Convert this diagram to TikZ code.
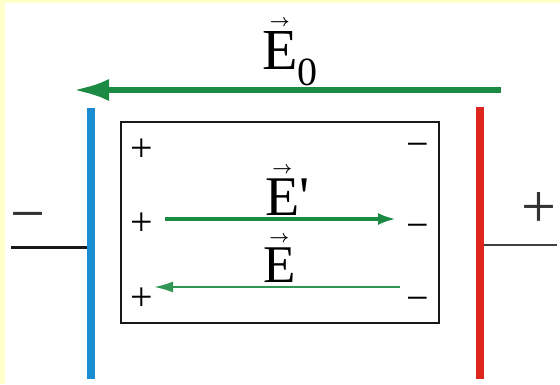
\documentclass[tikz,border=0pt]{standalone}
\usepackage{amsmath}
\usepackage{fontspec}
\setmainfont{Liberation Serif}
\usetikzlibrary{arrows.meta}

\definecolor{fieldgreen}{RGB}{27,138,66}
\definecolor{platblue}{RGB}{26,140,210}
\definecolor{platred}{RGB}{222,38,30}
\definecolor{paper}{RGB}{255,255,204}

\newcommand{\fieldvec}[1]{$\overset{\text{\fontsize{16}{16}\selectfont$\boldsymbol{\rightarrow}$}}{\text{#1}}$}

\tikzset{
    sign/.style={inner sep=0pt, text height=29pt, text depth=0pt, font=\fontsize{40}{40}\selectfont},
    termsign/.style={inner sep=0pt, text height=45pt, text depth=0pt, text=black!80, font=\fontsize{62}{62}\selectfont},
    fieldlabel/.style={inner sep=0pt, anchor=base west}
}

\begin{document}
\begin{tikzpicture}[x=1pt, y=-1pt]
    \useasboundingbox (0,0) rectangle (560,384);

    % Background with yellow edge
    \fill[white] (0,0) rectangle (560,384);
    \fill[paper] (0,0) rectangle (5,384);
    \fill[paper] (0,0) rectangle (560,3);

    % Plates
    \coordinate (negtop) at (91,108);
    \coordinate (negbot) at (91,379);
    \coordinate (postop) at (480,107);
    \coordinate (posbot) at (480,379);
    \draw[platblue, line width=8pt] (negtop) -- (negbot);
    \draw[platred, line width=8pt] (postop) -- (posbot);

    % Leads
    \coordinate (negwire) at (87,247);
    \coordinate (negend) at (11,247);
    \coordinate (poswire) at (484,245);
    \coordinate (posend) at (557,245);
    \draw[black!90, line width=3pt] (negwire) -- (negend);
    \draw[black!75, line width=1.5pt] (poswire) -- (posend);
    \node[termsign] (negsign) at (28,212) {−};
    \node[termsign] (possign) at (539,205) {+};

    % Dielectric slab
    \draw[black!90, line width=2pt] (121,122) rectangle (439,323);

    % Bound charges on the slab faces
    \foreach \y [count=\i] in {147,221,296} {
        \node[sign] (plus\i) at (142,\y) {+};
    }
    \foreach \y [count=\i] in {143,224,297} {
        \node[sign] (minus\i) at (418,\y) {−};
    }

    % External field
    \coordinate (eotail) at (501,90);
    \coordinate (eotip) at (73,90);
    \draw[fieldgreen, line width=6pt, -{Latex[length=36pt, width=22pt]}] (eotail) -- (eotip);
    \node[fieldlabel, font=\fontsize{58}{60}\selectfont] (eolabel) at (262,69)
        {\fieldvec{E}\raisebox{-16pt}{\fontsize{40}{40}\selectfont 0}};

    % Field of the bound charges
    \coordinate (eptail) at (165,219);
    \coordinate (eptip) at (396,219);
    \draw[fieldgreen, line width=3.5pt, -{Latex[length=18pt, width=12pt]}] (eptail) -- (eptip);
    \node[fieldlabel, font=\fontsize{56}{58}\selectfont] (eplabel) at (265,215) {\fieldvec{E}\textquotesingle};

    % Resulting field
    \coordinate (etail) at (400,287);
    \coordinate (etip) at (154,287);
    \draw[fieldgreen!90, line width=2pt, -{Latex[length=19pt, width=11pt]}] (etail) -- (etip);
    \node[fieldlabel, font=\fontsize{53}{55}\selectfont] (elabel) at (263,282) {\fieldvec{E}};
\end{tikzpicture}
\end{document}
